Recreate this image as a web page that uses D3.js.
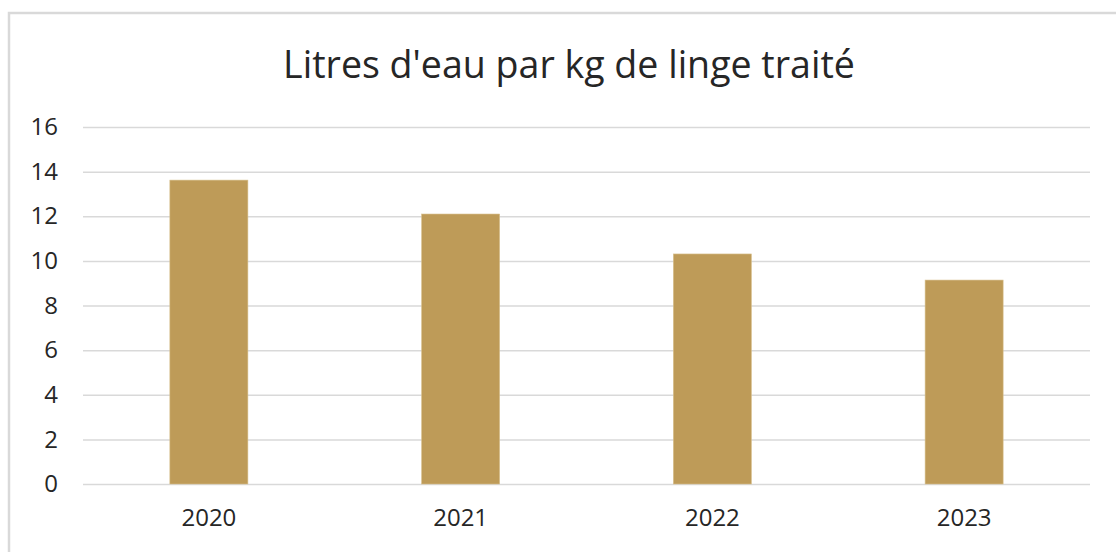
<!DOCTYPE html>
<html>
<head>
<meta charset="utf-8">
<script src="https://cdn.jsdelivr.net/npm/d3@7"></script>
<style>
  html, body { margin: 0; padding: 0; background: #fff; }
  svg { display: block; font-family: "Open Sans", sans-serif; }
</style>
</head>
<body>
<div id="chart"></div>
<script>
// data
const years = ["2020", "2021", "2022", "2023"];
const litresPerKg = [13.62, 12.1, 10.31, 9.14];
const yTicks = [0, 2, 4, 6, 8, 10, 12, 14, 16];
const chartTitle = "Litres d'eau par kg de linge traité";

const W = 1116, H = 552;
const margin = { top: 127, right: 26, bottom: 68, left: 83 };
const width = W - margin.left - margin.right,
      height = H - margin.top - margin.bottom;

const svg = d3.select("#chart")
  .append("svg")
  .attr("width", W)
  .attr("height", H);

// chart frame
svg.append("rect")
  .attr("x", 9).attr("y", 13)
  .attr("width", W + 20).attr("height", H + 20)
  .attr("fill", "none")
  .attr("stroke", "#d9d9d9")
  .attr("stroke-width", 2.5);

// title, fitted to the reference width
const title = svg.append("text")
  .attr("x", 569)
  .attr("y", 78)
  .attr("text-anchor", "middle")
  .attr("fill", "#262626")
  .style("font-size", "33px")
  .text(chartTitle);
const tw = title.node().getComputedTextLength();
title.style("font-size", (33 * 572 / tw).toFixed(2) + "px");

const g = svg.append("g")
  .attr("transform", `translate(${margin.left},${margin.top})`);

const x = d3.scaleBand()
  .domain(years)
  .range([0, width])
  .padding(0);

const y = d3.scaleLinear()
  .domain([0, 16])
  .range([height, 0]);

// gridlines
g.append("g")
  .call(d3.axisLeft(y).tickValues(yTicks).tickSize(-width).tickFormat(""))
  .call(s => s.select(".domain").remove())
  .selectAll(".tick line")
  .attr("stroke", "#d9d9d9")
  .attr("stroke-width", 1.5);

// y labels
g.append("g")
  .call(d3.axisLeft(y).tickValues(yTicks).tickSize(0).tickPadding(25))
  .call(s => s.select(".domain").remove())
  .selectAll("text")
  .attr("fill", "#262626")
  .style("font-size", "24px")
  .style("font-family", "'Open Sans', sans-serif");

// x labels
g.append("g")
  .attr("transform", `translate(0,${height})`)
  .call(d3.axisBottom(x).tickSize(0).tickPadding(25))
  .call(s => s.select(".domain").remove())
  .selectAll("text")
  .attr("fill", "#262626")
  .style("font-size", "24px")
  .style("font-family", "'Open Sans', sans-serif");

// bars
const barW = x.bandwidth() * 0.31;
g.selectAll("rect.bar")
  .data(years.map((d, i) => ({ year: d, value: litresPerKg[i] })))
  .enter().append("rect")
  .attr("class", "bar")
  .attr("x", d => x(d.year) + (x.bandwidth() - barW) / 2)
  .attr("y", d => y(d.value))
  .attr("width", barW)
  .attr("height", d => height - y(d.value))
  .attr("fill", "#be9b58")
  .attr("stroke", "#d8c08e")
  .attr("stroke-width", 0.6);
</script>
</body>
</html>
